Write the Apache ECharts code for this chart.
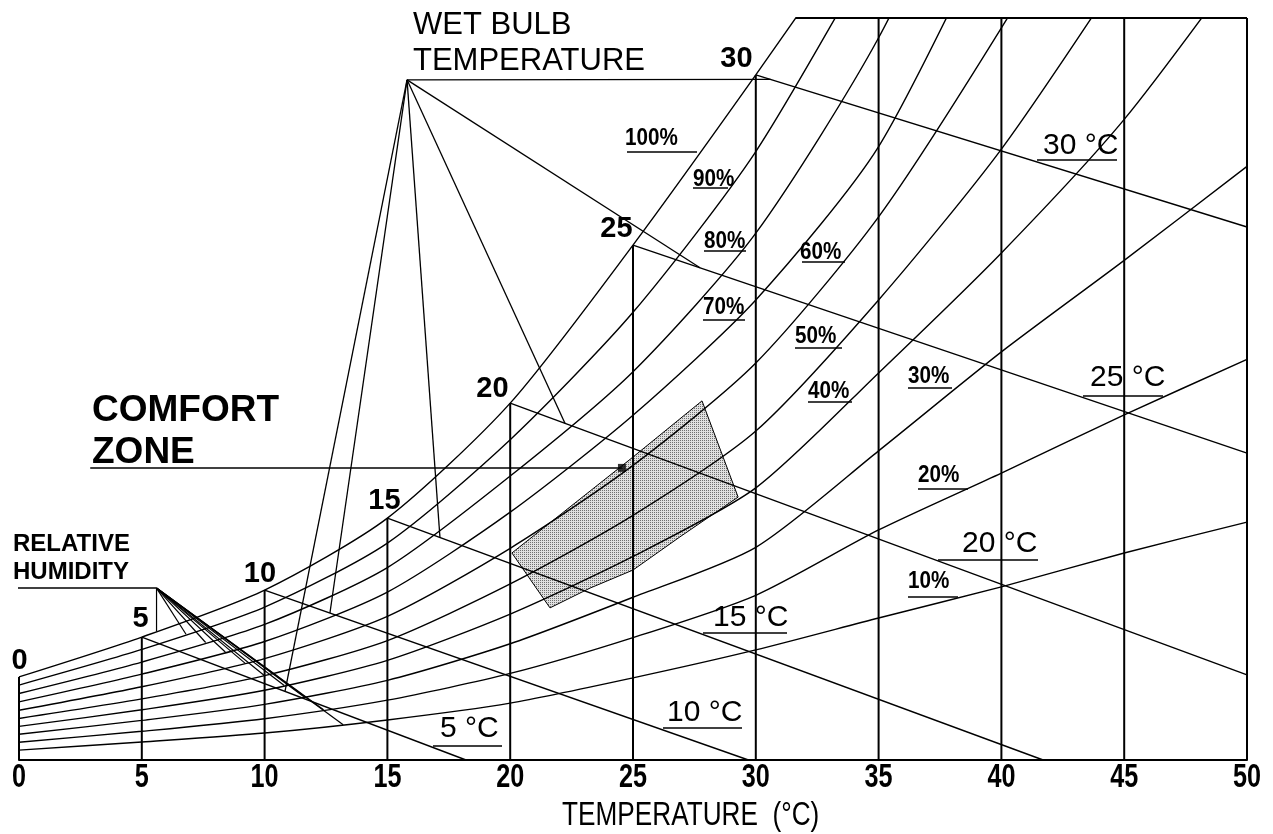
<!DOCTYPE html>
<html><head><meta charset="utf-8">
<script src="https://cdn.jsdelivr.net/npm/echarts@6/dist/echarts.min.js"></script>
<style>html,body{margin:0;padding:0;background:#fff}#c{width:1273px;height:834px}</style>
</head><body><div id="c"></div>
<script>
// ---- data (temperature in degC, moisture content in g/kg) ----
const temps = [0, 5, 10, 15, 20, 25, 30, 35, 40, 45, 50];
const tickLabels = ['0','5','10','15','20','25','30','35','40','45','50'];
const rhNames = ['10%','20%','30%','40%','50%','60%','70%','80%','90%','100%'];
const rh10  = [0.40, 0.73, 1.09, 1.62, 2.30, 3.32, 4.45, 5.74, 7.00, 8.37, 9.62];
const rh20  = [0.72, 1.16, 1.67, 2.42, 3.50, 4.95, 6.66, 9.30, 11.6, 13.95, 16.2];
const rh30  = [1.04, 1.60, 2.25, 3.22, 4.70, 6.58, 8.60, 12.5, 16.5, 20.2, 24.0];
const rh40  = [1.36, 2.03, 2.82, 4.03, 5.90, 8.23, 11.0, 15.65, 20.5, 25.9, 32.5];
const rh50  = [1.68, 2.47, 3.41, 4.83, 7.12, 9.89, 13.3, 18.6, 24.7, 32.0];
const rh60  = [2.01, 2.96, 4.10, 5.81, 8.56, 11.91, 16.05, 21.96, 29.6, 38.0];
const rh70  = [2.35, 3.47, 4.79, 6.79, 10.02, 13.94, 18.6, 24.8, 34.6];
const rh80  = [2.69, 3.96, 5.48, 7.78, 11.48, 15.7, 21.3, 29.2, 39.6];
const rh90  = [3.03, 4.47, 6.18, 8.77, 12.95, 18.1, 24.6, 33.1];
const rh100 = [3.36, 4.97, 6.87, 9.78, 14.43, 20.82, 27.70, 34.8];
const rhCurves = [rh10, rh20, rh30, rh40, rh50, rh60, rh70, rh80, rh90, rh100];

// wet bulb lines: start on saturation at wbTemps, end at (wbEndT, wbEndY)
const wbTemps = [5, 10, 15, 20, 25, 30];
const wbNames = ['5 °C','10 °C','15 °C','20 °C','25 °C','30 °C'];
const wbEndT  = [18.2, 29.7, 41.7, 50, 50, 50];
const wbEndY  = [0, 0, 0, 3.44, 12.41, 21.55];

// comfort zone outline
const zoneT = [20.07, 25.0, 27.81, 29.28, 26.91, 25.0, 23.25, 21.62];
const zoneW = [8.37, 12.25, 14.52, 10.63, 9.02, 7.68, 6.95, 6.15];

// annotation anchors
const wbFanOrigin = [15.8, 27.5];
const wbFanT = [10.83, 12.66, 17.14, 22.23, 27.73, 30.6];
const rhFanOrigin = [5.6, 6.95];
const rhFanT = [13.2, 12.4, 11.6, 10.8, 10.0, 9.2, 8.4, 7.6, 6.8, 5.6];
const rhLabelLineStartT = -0.3;
const comfortLine = [[2.9, 11.81], [24.55, 11.81]];

const Y_MAX = 30;

function interp(xs, ys, t) {
  for (let i = 0; i < xs.length - 1; i++) {
    if (t >= xs[i] && t <= xs[i + 1]) {
      const f = (t - xs[i]) / (xs[i + 1] - xs[i]);
      return ys[i] + f * (ys[i + 1] - ys[i]);
    }
  }
  return ys[ys.length - 1];
}
function satAt(t) { return interp(temps.slice(0, rh100.length), rh100, t); }

const BLACK = '#000';
const series = [];
function lineSeries(data, width, opts) {
  return Object.assign({
    type: 'line', data: data, symbol: 'none', silent: true, animation: false,
    smooth: false, clip: true, z: 3,
    lineStyle: { color: BLACK, width: width }
  }, opts || {});
}

// comfort zone polygon (pattern fill)
const pc = document.createElement('canvas');
pc.width = 2; pc.height = 2;
const g = pc.getContext('2d');
g.fillStyle = '#e0e0e0'; g.fillRect(0, 0, 2, 2);
g.fillStyle = '#707070'; g.fillRect(0, 0, 1, 1);
series.push({
  type: 'custom', silent: true, animation: false, z: 2,
  data: [[0]],
  renderItem: function (params, api) {
    const pts = zoneT.map((t, i) => api.coord([t, zoneW[i]]));
    return { type: 'polygon', shape: { points: pts },
      style: { fill: { image: pc, repeat: 'repeat' }, stroke: '#000', lineWidth: 1 } };
  }
});

// RH curves
rhCurves.forEach((vals) => {
  series.push(lineSeries(vals.map((v, i) => [temps[i], v]), 1.4, { smooth: 0.25 }));
});

// vertical dry bulb lines
temps.forEach((t, i) => {
  const top = i < rh100.length ? Math.min(rh100[i], Y_MAX) : Y_MAX;
  series.push(lineSeries([[t, 0], [t, top]], 2));
});
// top border where the saturation curve leaves the chart
let tTop = 50;
for (let i = 0; i < rh100.length - 1; i++) {
  if (rh100[i] <= Y_MAX && rh100[i + 1] > Y_MAX) {
    tTop = temps[i] + (Y_MAX - rh100[i]) / (rh100[i + 1] - rh100[i]) * (temps[i + 1] - temps[i]);
  }
}
series.push(lineSeries([[tTop, Y_MAX], [50, Y_MAX]], 2));

// wet bulb lines
const wbLines = wbTemps.map((t, i) => [[t, satAt(t)], [wbEndT[i], wbEndY[i]]]);
wbLines.forEach(l => series.push(lineSeries(l, 1.4)));

function onWb(i, t) {
  const l = wbLines[i];
  return [t, interp([l[0][0], l[1][0]], [l[0][1], l[1][1]], t)];
}
wbFanT.forEach((t, i) => series.push(lineSeries([wbFanOrigin, onWb(i, t)], 1.3, { clip: false })));
rhFanT.forEach((t, k) => {
  const vals = rhCurves[k];
  const y = interp(temps.slice(0, vals.length), vals, t);
  series.push(lineSeries([rhFanOrigin, [t, y]], 1.2, { clip: false }));
});
series.push(lineSeries([[rhLabelLineStartT, rhFanOrigin[1]], rhFanOrigin], 1.5, { clip: false }));
series.push(lineSeries(comfortLine, 1.5, { clip: false }));
series.push({
  type: 'scatter', silent: true, animation: false, z: 5,
  data: [comfortLine[1]], symbol: 'rect', symbolSize: 8, itemStyle: { color: '#000' }
});

const chart = echarts.init(document.getElementById('c'), null, { renderer: 'canvas' });
chart.setOption({
  animation: false,
  backgroundColor: '#fff',
  grid: { left: 19, right: 26, top: 18, bottom: 74, outerBoundsMode: 'none', containLabel: false },
  xAxis: {
    type: 'value', min: 0, max: 50, interval: 5,
    axisLine: { show: true, lineStyle: { color: '#000', width: 2 } },
    axisTick: { show: false }, splitLine: { show: false },
    axisLabel: { show: false }
  },
  yAxis: { type: 'value', min: 0, max: Y_MAX, show: false },
  series: series
});

// ---- text annotations (pixel layout) ----
const FONT = '"Liberation Sans", Arial, sans-serif';
const gfx = [];
function txt(text, x, y, size, weight, align, sx) {
  gfx.push({ type: 'text', silent: true, z: 10, x: x, y: y, scaleX: sx || 1,
    style: { text: text, x: 0, y: 0, fill: '#000', align: align || 'left',
      verticalAlign: 'middle', font: (weight || 'normal') + ' ' + size + 'px ' + FONT } });
}
function uline(x1, x2, y, w) {
  gfx.push({ type: 'line', silent: true, z: 10,
    shape: { x1: x1, y1: y, x2: x2, y2: y }, style: { stroke: '#000', lineWidth: w || 1.5 } });
}
const axisY = chart.convertToPixel({ yAxisIndex: 0 }, 0);
temps.forEach((t, i) => {
  txt(tickLabels[i], chart.convertToPixel({ xAxisIndex: 0 }, t), axisY + 18, 34, 'bold', 'center', 0.74);
});
txt('TEMPERATURE  (°C)', chart.convertToPixel({ xAxisIndex: 0 }, 27.35), axisY + 56, 34, 'normal', 'center', 0.77);

txt('WET BULB', 413, 25, 31, 'normal');
txt('TEMPERATURE', 413, 61, 31, 'normal');
txt('COMFORT', 92, 411, 37, 'bold');
txt('ZONE', 92, 453, 37, 'bold');
txt('RELATIVE', 13, 544, 24, 'bold');
txt('HUMIDITY', 13, 572, 24, 'bold');
const satLbl = [['0', 19.5, 661], ['5', 140.5, 619], ['10', 260, 574], ['15', 384.5, 501],
  ['20', 492.5, 389], ['25', 616.5, 229], ['30', 736.5, 59]];
satLbl.forEach(s => txt(s[0], s[1], s[2], 29, 'bold', 'center'));
const rhLbl = [
  ['10%', 908, 581, 908, 958, 597], ['20%', 918, 475, 918, 968, 489],
  ['30%', 908, 376, 908, 952, 388], ['40%', 808, 391, 808, 852, 402],
  ['50%', 795, 336, 795, 842, 348], ['60%', 800, 252, 802, 845, 262],
  ['70%', 703, 307, 703, 745, 320], ['80%', 704, 241, 704, 746, 251],
  ['90%', 693, 179, 693, 728, 188], ['100%', 625, 138, 627, 697, 152]];
rhLbl.forEach(r => { txt(r[0], r[1], r[2], 24, 'bold', 'left', 0.86); uline(r[3], r[4], r[5], 1.5); });
const wbLbl = [
  ['5 °C', 440, 729, 433, 502, 746], ['10 °C', 667, 713, 663, 742, 728],
  ['15 °C', 713, 618, 703, 787, 633], ['20 °C', 962, 544, 938, 1038, 560],
  ['25 °C', 1090, 378, 1083, 1163, 396], ['30 °C', 1043, 146, 1037, 1117, 160]];
wbLbl.forEach(r => { txt(r[0], r[1], r[2], 30, 'normal'); uline(r[3], r[4], r[5], 1.5); });

chart.setOption({ graphic: gfx });
</script>
</body></html>
